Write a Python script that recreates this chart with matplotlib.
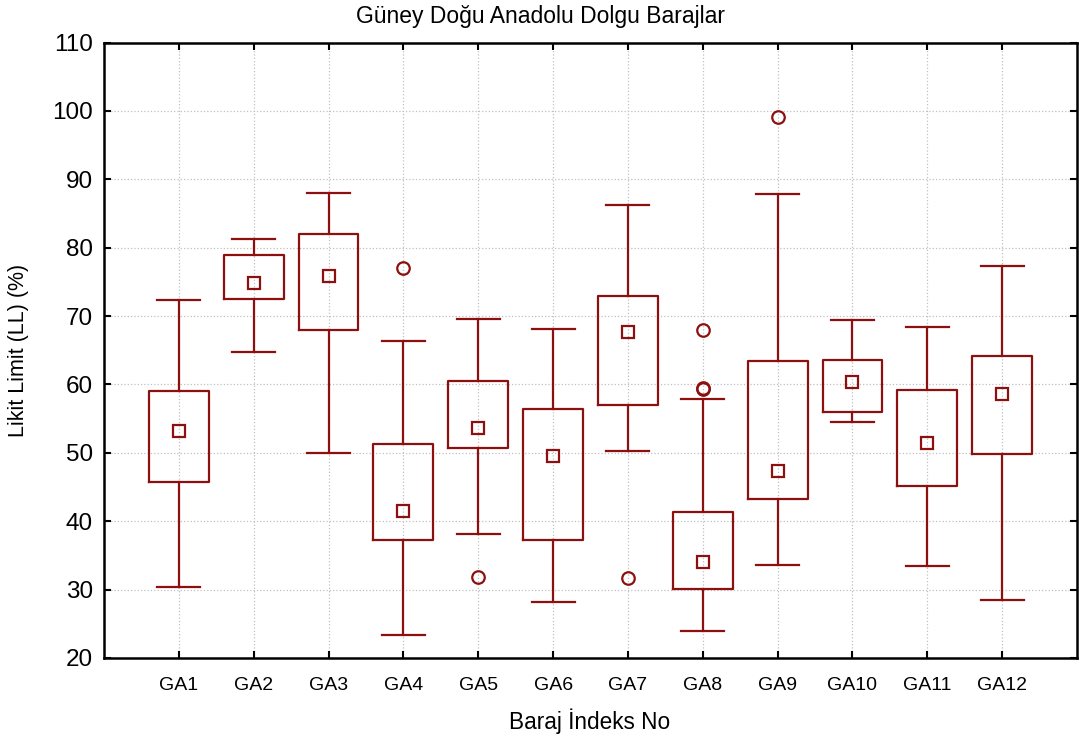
import matplotlib
matplotlib.use("Agg")
import matplotlib.pyplot as plt

categories = ["GA1", "GA2", "GA3", "GA4", "GA5", "GA6", "GA7", "GA8", "GA9", "GA10", "GA11", "GA12"]
whisker_low = [30.4, 64.7, 50.0, 23.4, 38.1, 28.2, 50.2, 24.0, 33.6, 54.55, 33.5, 28.5]
q1 = [45.7, 72.5, 68.0, 37.2, 50.7, 37.2, 57.0, 30.1, 43.2, 55.9, 45.2, 49.9]
medians = [53.2, 74.8, 75.8, 41.45, 53.7, 49.5, 67.7, 34.1, 47.3, 60.3, 51.5, 58.6]
q3 = [59.0, 79.0, 82.0, 51.3, 60.5, 56.4, 73.0, 41.4, 63.4, 63.6, 59.2, 64.2]
whisker_high = [72.3, 81.3, 88.0, 66.35, 69.5, 68.15, 86.2, 57.9, 87.9, 69.4, 68.45, 77.3]
outliers = [[], [], [], [77.0], [31.9], [], [31.65], [68.0, 59.3, 59.5], [99.05], [], [], []]

color = "#8c1010"
positions = list(range(1, len(categories) + 1))

fig = plt.figure(figsize=(10.8, 7.4), dpi=100)
ax = fig.add_axes([104 / 1080, 1 - 658 / 740, (1077 - 104) / 1080, (658 - 42.5) / 740])

stats = []
for i, c in enumerate(categories):
    stats.append(dict(label=c, whislo=whisker_low[i], q1=q1[i], med=medians[i],
                      q3=q3[i], whishi=whisker_high[i], fliers=outliers[i]))

ax.bxp(stats, positions=positions, widths=0.8, showfliers=True,
       boxprops=dict(color=color, linewidth=1.6),
       whiskerprops=dict(color=color, linewidth=1.6),
       capprops=dict(color=color, linewidth=1.6),
       medianprops=dict(linestyle="none"),
       flierprops=dict(marker="o", markerfacecolor="none", markeredgecolor=color,
                       markersize=9, markeredgewidth=1.6),
       capwidths=0.575, zorder=3)
ax.plot(positions, medians, "s", markerfacecolor="none", markeredgecolor=color,
        markersize=8.5, markeredgewidth=1.6, zorder=4, linestyle="none")

ax.set_xlim(0, 13)
ax.set_ylim(20, 110)
ax.set_xticks(positions)
ax.set_xticklabels(categories, fontsize=14, family="Liberation Sans")
ax.set_yticks(range(20, 111, 10))
ax.set_yticklabels([str(v) for v in range(20, 111, 10)], fontsize=17.5, family="Liberation Sans")
ax.tick_params(direction="in", top=True, right=True, length=5, width=1.5)
ax.tick_params(axis="x", pad=14)
ax.tick_params(axis="y", pad=8)
for s in ax.spines.values():
    s.set_linewidth(1.8)
ax.grid(True, color="#c0c0c0", linestyle=":", linewidth=0.9, zorder=0)
ax.set_axisbelow(True)

fig.text(590 / 1080, 1 - 721 / 740, "Baraj İndeks No", ha="center", va="center",
         fontsize=16.3, family="Liberation Sans")
fig.text(19 / 1080, 1 - 350 / 740, "Likit Limit (LL) (%)", ha="center", va="center",
         rotation=90, fontsize=15.5, family="Liberation Sans")
fig.text(541 / 1080, 1 - 17 / 740, "Güney Doğu Anadolu Dolgu Barajlar", ha="center", va="center",
         fontsize=16.5, family="Liberation Sans")

fig.savefig("out.png", dpi=100)
